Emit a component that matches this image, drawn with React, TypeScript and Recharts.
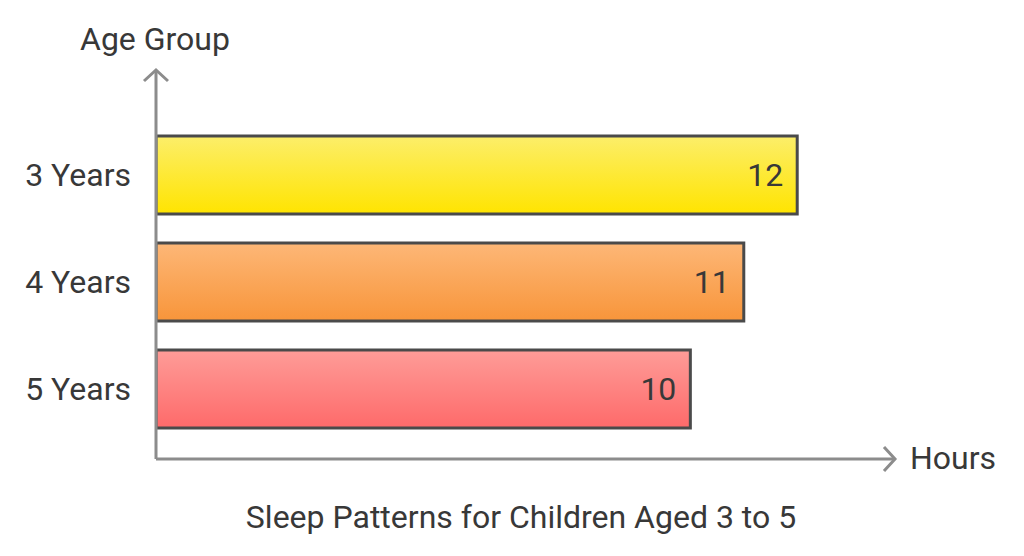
import { BarChart, Bar, XAxis, YAxis, Cell, LabelList } from 'recharts';

// values
const ageGroups = ['3 Years', '4 Years', '5 Years'];
const sleepHours = [12, 11, 10];
const gradientTops = ['#fcee6a', '#fdb777', '#fe9c98'];
const gradientBottoms = ['#ffe400', '#f8953a', '#fe6a6a'];

const data = ageGroups.map((group, i) => ({ group, hours: sleepHours[i] }));

const AXIS = '#8c8c8c';
const TEXT = '#383838';
const FONT = 'Roboto, "Noto Sans", sans-serif';

export default function App() {
  return (
    <div style={{ position: 'absolute', left: 0, top: 0, width: 1024, height: 556, background: '#fff', fontFamily: FONT }}>
      <BarChart
        width={1024}
        height={556}
        data={data}
        layout="vertical"
        margin={{ top: 70, right: 129, bottom: 96, left: 0 }}
      >
        <defs>
          {ageGroups.map((_, i) => (
            <linearGradient key={i} id={`grad-${i}`} x1="0" y1="0" x2="0" y2="1">
              <stop offset="0%" stopColor={gradientTops[i]} />
              <stop offset="100%" stopColor={gradientBottoms[i]} />
            </linearGradient>
          ))}
          <marker
            id="arrow"
            viewBox="0 0 30 30"
            refX="27"
            refY="15"
            markerWidth="30"
            markerHeight="30"
            markerUnits="userSpaceOnUse"
            orient="auto-start-reverse"
          >
            <path d="M 16 3 L 27 15 L 16 27" fill="none" stroke={AXIS} strokeWidth={3} />
          </marker>
        </defs>
        <XAxis
          type="number"
          domain={[0, 13.83]}
          allowDataOverflow
          tick={false}
          tickLine={false}
          height={1}
          axisLine={{ stroke: AXIS, strokeWidth: 3, markerEnd: 'url(#arrow)' }}
        />
        <YAxis
          type="category"
          dataKey="group"
          width={156}
          padding={{ top: 51, bottom: 17 }}
          tickLine={false}
          tickSize={0}
          tickMargin={25}
          tick={{ fill: TEXT, fontSize: 32, fontFamily: FONT }}
          axisLine={{ stroke: AXIS, strokeWidth: 3, markerStart: 'url(#arrow)' }}
        />
        <Bar dataKey="hours" barSize={78} stroke="#4a4a4a" strokeWidth={3} isAnimationActive={false}>
          {data.map((_, i) => (
            <Cell key={i} fill={`url(#grad-${i})`} />
          ))}
          <LabelList
            dataKey="hours"
            position="insideRight"
            offset={14}
            fill={TEXT}
            fontSize={32}
            fontFamily={FONT}
          />
        </Bar>
      </BarChart>
      <div style={{ position: 'absolute', left: 80, top: 19, fontSize: 32, color: TEXT, lineHeight: '40px' }}>
        Age Group
      </div>
      <div style={{ position: 'absolute', left: 910, top: 438, fontSize: 32, color: TEXT, lineHeight: '40px' }}>
        Hours
      </div>
      <div
        style={{
          position: 'absolute',
          left: 0,
          width: 1042,
          top: 497,
          textAlign: 'center',
          fontSize: 32,
          color: TEXT,
          lineHeight: '40px',
        }}
      >
        Sleep Patterns for Children Aged 3 to 5
      </div>
    </div>
  );
}
